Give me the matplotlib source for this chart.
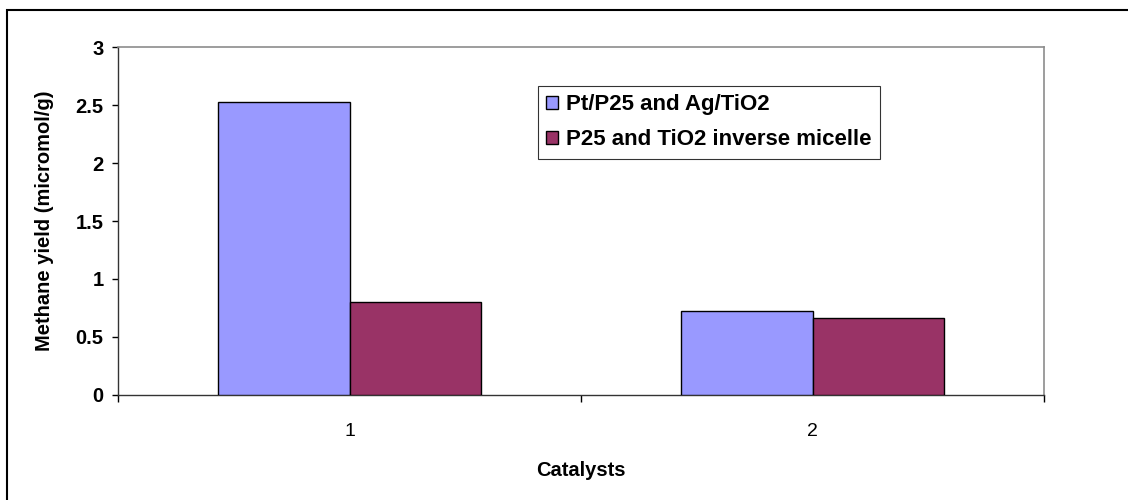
import matplotlib
matplotlib.use("Agg")
import matplotlib.pyplot as plt
import numpy as np
from matplotlib.patches import Rectangle

categories = ["1", "2"]
series_names = ["Pt/P25 and Ag/TiO2", "P25 and TiO2 inverse micelle"]
series_a = [2.53, 0.72]
series_b = [0.80, 0.66]
colors = ["#9999FF", "#993366"]
yticks = [0, 0.5, 1, 1.5, 2, 2.5, 3]

plt.rcParams['font.family'] = ['Liberation Sans', 'DejaVu Sans']

W, H = 1128, 500
fig = plt.figure(figsize=(W/100, H/100), dpi=100)
ax = fig.add_axes([118/W, 105/H, 926/W, 348/H])

x = np.arange(len(categories))
w = 0.285
ax.bar(x - w/2, series_a, w, color=colors[0], edgecolor="black", linewidth=1.0, label=series_names[0], zorder=3)
ax.bar(x + w/2, series_b, w, color=colors[1], edgecolor="black", linewidth=1.0, label=series_names[1], zorder=3)

ax.set_xlim(-0.5, len(categories) - 0.5)
ax.set_ylim(0, 3)
ax.set_yticks(yticks)
ax.set_yticklabels([f"{t:g}" for t in yticks], fontsize=14.5, fontweight="bold")
ax.set_xticks(np.arange(-0.5, len(categories), 1.0))
ax.set_xticklabels([])
ax.set_xticks(x, minor=True)
ax.set_xticklabels(categories, minor=True, fontsize=14)
ax.tick_params(axis="x", which="major", direction="out", length=5, width=1, color="black")
ax.tick_params(axis="x", which="minor", length=0, pad=20)
ax.tick_params(axis="y", direction="out", length=4.5, width=1, color="black", pad=6)

for s in ["top", "right"]:
    ax.spines[s].set_color("#8c8c8c")
    ax.spines[s].set_linewidth(1.2)
for s in ["left", "bottom"]:
    ax.spines[s].set_color("#333333")
    ax.spines[s].set_linewidth(1.0)

fig.text(581/W, 1 - 471/H, "Catalysts", fontsize=14.5, fontweight="bold", ha="center", va="center")
fig.text(45/W, 1 - 221/H, "Methane yield (micromol/g)", fontsize=14.5, fontweight="bold",
         rotation=90, ha="center", va="center")

leg = ax.legend(loc="upper left", bbox_to_anchor=((538-118)/926, (395-86)/348),
                prop={"weight": "bold", "size": 16},
                frameon=True, fancybox=False, edgecolor="black",
                handlelength=0.5, handleheight=0.5, handletextpad=0.4,
                borderpad=0.38, labelspacing=0.62, borderaxespad=0)
leg.get_frame().set_linewidth(0.8)

# outer border
fig.patches.append(Rectangle((7/W, -0.1), 1.2, (490/H) + 0.1, transform=fig.transFigure,
                             fill=False, edgecolor="black", linewidth=1.5))

fig.savefig("out.png", dpi=100)
